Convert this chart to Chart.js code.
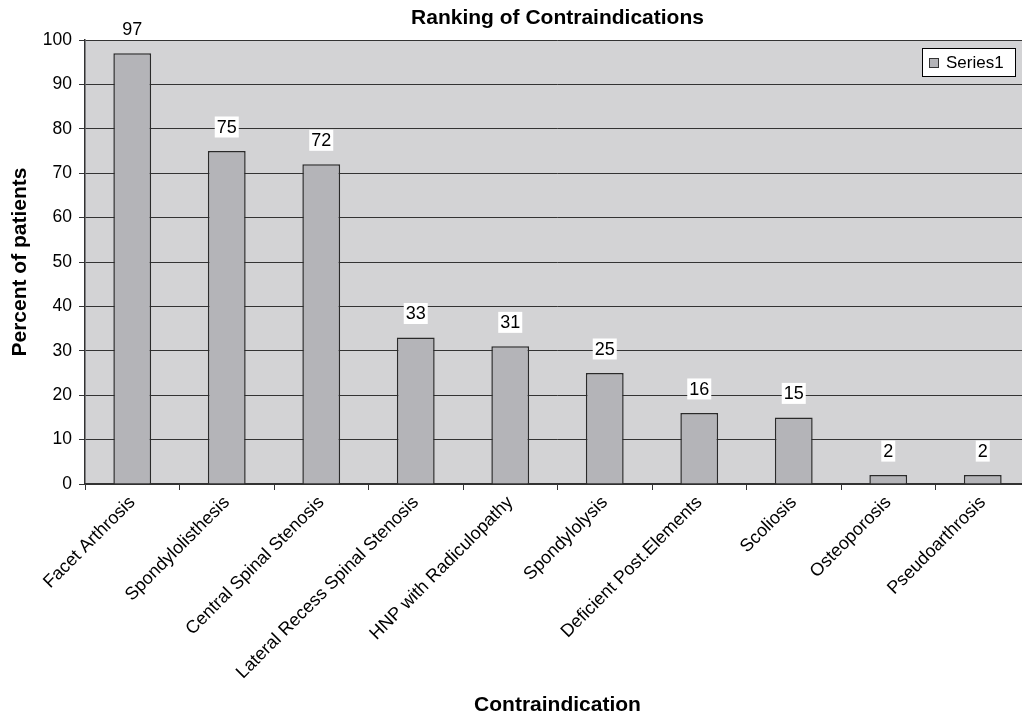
<!DOCTYPE html>
<html lang="en">
<head>
  <meta charset="UTF-8">
  <title>Ranking of Contraindications</title>
  <script src="https://cdn.jsdelivr.net/npm/chart.js@4"></script>
  <style>
    body {
      margin: 0;
      padding: 0;
      background-color: #ffffff;
      overflow: hidden;
    }

    #wrap {
      width: 1022px;
      height: 717px;
      overflow: hidden;
    }
  </style>
</head>
<body>

  <div id="wrap">
    <canvas id="chart" width="1040" height="717"></canvas>
  </div>

  <script>
    // Dados do gráfico
    const categories = [
      'Facet Arthrosis',
      'Spondylolisthesis',
      'Central Spinal Stenosis',
      'Lateral Recess Spinal Stenosis',
      'HNP with Radiculopathy',
      'Spondylolysis',
      'Deficient Post.Elements',
      'Scoliosis',
      'Osteoporosis',
      'Pseudoarthrosis'
    ];
    const seriesName = 'Series1';
    const percentValues = [97, 75, 72, 33, 31, 25, 16, 15, 2, 2];
    const yTicks = [0, 10, 20, 30, 40, 50, 60, 70, 80, 90, 100];

    const chartTitle = 'Ranking of Contraindications';
    const xTitle = 'Contraindication';
    const yTitle = 'Percent of patients';

    const font = "'Liberation Sans', Arial, sans-serif";

    // Fundo cinza da área do gráfico
    const plotBackground = {
      id: 'plotBackground',
      beforeDraw(chart) {
        const { ctx, chartArea } = chart;
        ctx.save();
        ctx.fillStyle = '#d3d3d5';
        ctx.fillRect(chartArea.left, chartArea.top, chartArea.right - chartArea.left, chartArea.bottom - chartArea.top);
        ctx.restore();
      }
    };

    // Títulos, rótulos de valor e legenda
    const extras = {
      id: 'extras',
      afterDraw(chart) {
        const { ctx, chartArea } = chart;
        const meta = chart.getDatasetMeta(0);
        const midX = (chartArea.left + chartArea.right) / 2;
        ctx.save();

        // rótulos com fundo branco
        ctx.font = '18px ' + font;
        ctx.textAlign = 'center';
        ctx.textBaseline = 'middle';
        meta.data.forEach((bar, i) => {
          const txt = String(percentValues[i]);
          const w = ctx.measureText(txt).width + 4;
          const h = 21;
          const cy = bar.y - 24;
          ctx.fillStyle = '#ffffff';
          ctx.fillRect(bar.x - w / 2, cy - h / 2, w, h);
          ctx.fillStyle = '#000000';
          ctx.fillText(txt, bar.x, cy + 1);
        });

        // título principal
        ctx.font = 'bold 21px ' + font;
        ctx.fillText(chartTitle, midX, 18);

        // título do eixo x
        ctx.fillText(xTitle, midX, 705);

        // legenda
        ctx.fillStyle = '#ffffff';
        ctx.fillRect(922, 48, 93, 28);
        ctx.strokeStyle = '#000000';
        ctx.lineWidth = 1;
        ctx.strokeRect(922.5, 48.5, 93, 28);
        ctx.fillStyle = '#b4b4b8';
        ctx.fillRect(929, 58, 10, 10);
        ctx.strokeStyle = '#333333';
        ctx.strokeRect(929.5, 58.5, 9, 9);
        ctx.fillStyle = '#000000';
        ctx.font = '17px ' + font;
        ctx.textAlign = 'left';
        ctx.fillText(seriesName, 946, 63);

        ctx.restore();
      }
    };

    const ctx = document.getElementById('chart').getContext('2d');
    const chart = new Chart(ctx, {
      type: 'bar',
      data: {
        labels: categories,
        datasets: [{
          label: seriesName,
          data: percentValues,
          backgroundColor: '#b4b4b8',
          borderColor: '#2a2a2a',
          borderWidth: 1.5,
          categoryPercentage: 1,
          barPercentage: 0.4
        }]
      },
      options: {
        responsive: false,
        animation: false,
        layout: {
          padding: { left: 0, top: 40, right: 10, bottom: 0 }
        },
        plugins: {
          legend: { display: false },
          title: { display: false },
          tooltip: { enabled: false }
        },
        scales: {
          x: {
            afterFit(scale) { scale.height = 233; },
            grid: {
              drawOnChartArea: false,
              color: '#333333',
              tickLength: 6,
              offset: true
            },
            border: { color: '#333333', width: 1.5 },
            ticks: {
              font: { family: font, size: 18 },
              color: '#000000',
              maxRotation: 45,
              minRotation: 45,
              autoSkip: false,
              padding: 2
            }
          },
          y: {
            min: 0,
            max: 100,
            afterFit(scale) { scale.width = 85; },
            afterBuildTicks(scale) {
              scale.ticks = yTicks.map(v => ({ value: v }));
            },
            grid: {
              color: '#333333',
              lineWidth: 1,
              tickLength: 6
            },
            border: { color: '#333333', width: 1.5 },
            ticks: {
              font: { family: font, size: 17.5 },
              color: '#000000',
              padding: 7
            },
            title: {
              display: true,
              text: yTitle,
              font: { family: font, size: 21, weight: 'bold' },
              color: '#000000',
              padding: { top: 8, bottom: 0 }
            }
          }
        }
      },
      plugins: [plotBackground, extras]
    });
  </script>

</body>
</html>
